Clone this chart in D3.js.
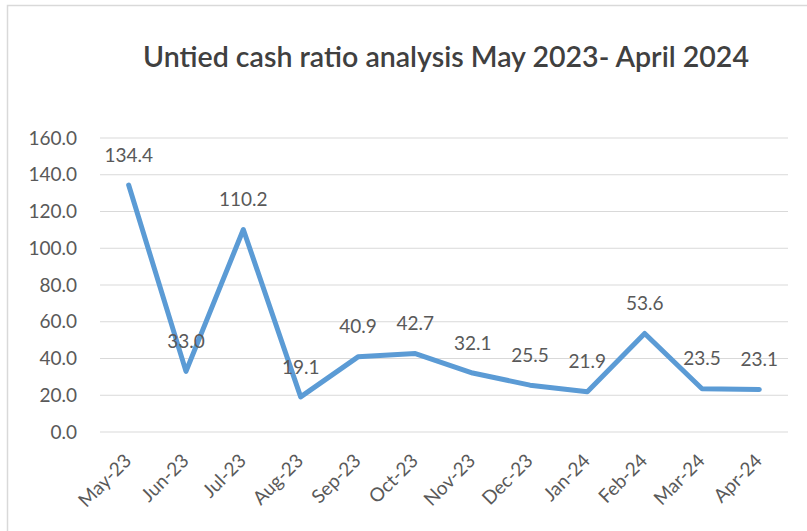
<!DOCTYPE html>
<html>
<head>
<meta charset="utf-8">
<script src="https://cdn.jsdelivr.net/npm/d3@7"></script>
<style>
  body { margin: 0; background: #fff; }
  svg text { font-family: Lato, "Open Sans", sans-serif; fill: #595959; }
</style>
</head>
<body>
<div id="chart"></div>
<script>
const months = ['May-23', 'Jun-23', 'Jul-23', 'Aug-23', 'Sep-23', 'Oct-23',
  'Nov-23', 'Dec-23', 'Jan-24', 'Feb-24', 'Mar-24', 'Apr-24'];
const ratios = [134.4, 33.0, 110.2, 19.1, 40.9, 42.7, 32.1, 25.5, 21.9, 53.6, 23.5, 23.1];
const yTicks = [0, 20, 40, 60, 80, 100, 120, 140, 160];
const title = 'Untied cash ratio analysis May 2023- April 2024';

const W = 807, H = 531;
const margin = { top: 138, right: 19, bottom: 99, left: 100 };
const width = W - margin.left - margin.right;
const height = H - margin.top - margin.bottom;

const svg = d3.select('#chart').append('svg')
  .attr('width', W)
  .attr('height', H);

// chart frame (only top and left edges show)
svg.append('path')
  .attr('d', `M7.5,${H} V5.5 H${W}`)
  .attr('fill', 'none')
  .attr('stroke', '#d9d9d9')
  .attr('stroke-width', 1.5);

svg.append('text')
  .attr('x', 446)
  .attr('y', 67)
  .attr('text-anchor', 'middle')
  .attr('textLength', 606)
  .attr('lengthAdjust', 'spacingAndGlyphs')
  .style('font-size', '28px')
  .style('font-weight', 600)
  .style('fill', '#404040')
  .text(title);

const g = svg.append('g')
  .attr('transform', `translate(${margin.left},${margin.top})`);

const x = d3.scaleBand()
  .domain(months)
  .range([0, width]);

const y = d3.scaleLinear()
  .domain([0, 160])
  .range([height, 0]);

// gridlines
g.append('g')
  .selectAll('line')
  .data(yTicks)
  .join('line')
  .attr('x1', 0).attr('x2', width)
  .attr('y1', d => y(d)).attr('y2', d => y(d))
  .attr('stroke', '#d9d9d9')
  .attr('stroke-width', 1.2);

// y axis labels
const yAxis = g.append('g')
  .call(d3.axisLeft(y).tickValues(yTicks).tickFormat(d3.format('.1f')).tickSize(0).tickPadding(23));
yAxis.select('.domain').remove();
yAxis.selectAll('text').style('font-size', '19px').style('fill', '#595959');

// x axis labels
const xAxis = g.append('g')
  .attr('transform', `translate(0,${height})`)
  .call(d3.axisBottom(x).tickSize(0).tickPadding(0));
xAxis.select('.domain').remove();
xAxis.selectAll('text')
  .style('font-size', '19px')
  .style('fill', '#595959')
  .attr('text-anchor', 'end')
  .attr('dy', null)
  .attr('y', 0)
  .attr('transform', 'translate(4,30) rotate(-45)');

const cx = d => x(d) + x.bandwidth() / 2;

// line
const line = d3.line()
  .x((d, i) => cx(months[i]))
  .y(d => y(d));

g.append('path')
  .datum(ratios)
  .attr('fill', 'none')
  .attr('stroke', '#5b9bd5')
  .attr('stroke-width', 5)
  .attr('stroke-linejoin', 'round')
  .attr('stroke-linecap', 'round')
  .attr('d', line);

// data labels
g.append('g')
  .selectAll('text')
  .data(ratios)
  .join('text')
  .attr('x', (d, i) => cx(months[i]))
  .attr('y', d => y(d) - 30)
  .attr('dy', '0.35em')
  .attr('text-anchor', 'middle')
  .style('font-size', '19px')
  .style('fill', '#595959')
  .text(d => d.toFixed(1));
</script>
</body>
</html>
